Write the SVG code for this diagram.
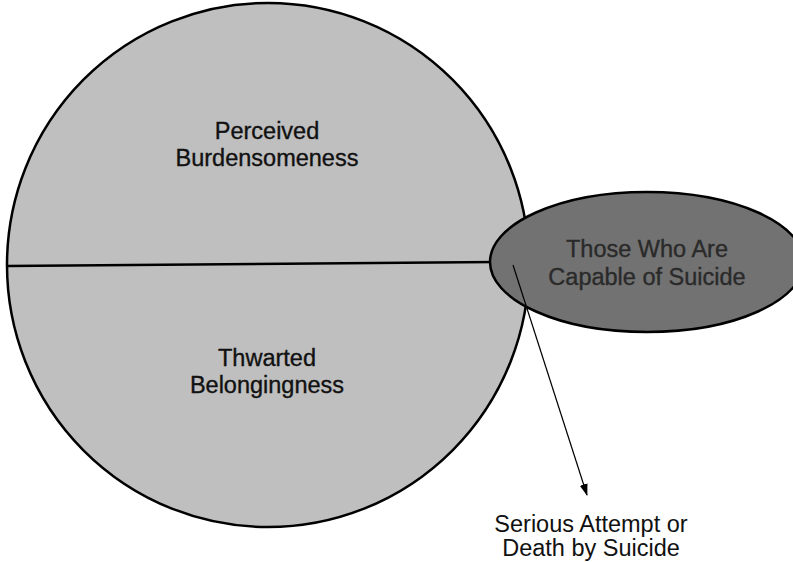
<svg xmlns="http://www.w3.org/2000/svg" width="793" height="562" viewBox="0 0 793 562">
<style>
text{font-family:"Liberation Sans",Arial,sans-serif;font-size:23.5px;text-anchor:middle}
.big{fill:#bfbfbf;stroke:#000;stroke-width:2.5}
.dark{fill:#727272;stroke:#000;stroke-width:2.5}
.lbl{fill:#111;stroke:#111;stroke-width:0.35}
.dlbl{fill:#2a2a2a;stroke:#2a2a2a;stroke-width:0.35}
.out{fill:#111}
.conn{stroke:#000;stroke-width:1.2;fill:none}
</style>
<defs>
<marker id="arrow" viewBox="0 0 12 10" refX="11" refY="5" markerWidth="12" markerHeight="10" markerUnits="userSpaceOnUse" orient="auto">
<path d="M0,1 L12,5 L0,9 Z" fill="#000"/>
</marker>
</defs>
<rect width="793" height="562" fill="#fff"/>
<g id="circle">
<ellipse class="big" cx="268" cy="265" rx="261" ry="262"/>
<line x1="7" y1="266" x2="495" y2="262" stroke="#000" stroke-width="2.5"/>
</g>
<g id="burdensomeness">
<text class="lbl" x="267" y="139">Perceived</text>
<text class="lbl" x="267" y="166">Burdensomeness</text>
</g>
<g id="belongingness">
<text class="lbl" x="267" y="366">Thwarted</text>
<text class="lbl" x="267" y="393">Belongingness</text>
</g>
<g id="capable">
<ellipse class="dark" cx="647" cy="262" rx="157" ry="70"/>
<text class="dlbl" x="647" y="257">Those Who Are</text>
<text class="dlbl" x="647" y="285">Capable of Suicide</text>
</g>
<g id="connectors">
<line class="conn" x1="513" y1="265" x2="587" y2="495" marker-end="url(#arrow)"/>
</g>
<g id="outcome">
<text class="out" x="591" y="532">Serious Attempt or</text>
<text class="out" x="591" y="556">Death by Suicide</text>
</g>
</svg>
